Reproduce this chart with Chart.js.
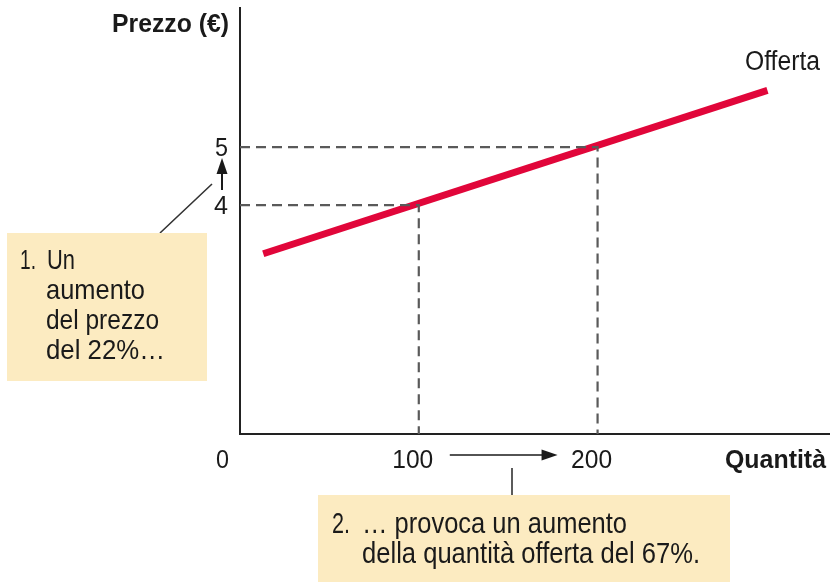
<!DOCTYPE html>
<html>
<head>
<meta charset="utf-8">
<script src="https://cdn.jsdelivr.net/npm/chart.js@4"></script>
<style>
  html, body { margin: 0; padding: 0; background: #fff; }
  #wrap { width: 830px; height: 582px; }
</style>
</head>
<body>
<div id="wrap"><canvas id="myChart" width="830" height="582"></canvas></div>
<script>
// data
const supplyQty = [13, 295];
const supplyPrice = [3.16, 5.98];
const quantities = [100, 200];
const prices = [4, 5];
const xTickLabels = ["100", "200"];
const yTickLabels = ["4", "5"];
const xMin = 0;
const xMax = 330;
const yMin = 0.05;
const yMax = 7.4;

const font = '"Liberation Sans", Arial, sans-serif';
const red = "#e1063a";
const boxFill = "#fcebc1";
const dashGrey = "#5a5a5a";
const ink = "#1a1a1a";

const supply = supplyQty.map((q, i) => ({ x: q, y: supplyPrice[i] }));
const guides = quantities.map((q, i) => ({
  label: "guide" + i,
  data: [{ x: xMin, y: prices[i] }, { x: q, y: prices[i] }, { x: q, y: yMin }],
  borderColor: dashGrey,
  borderWidth: 2.2,
  borderDash: [10, 6],
  pointRadius: 0,
  showLine: true,
  fill: false
}));

// condensed-looking text: squeeze horizontally to the width seen in the picture
function fitText(ctx, text, x, y, size, bold, width, align) {
  ctx.font = (bold ? "bold " : "") + size + "px " + font;
  const w = ctx.measureText(text).width;
  const sx = width / w;
  ctx.save();
  ctx.textAlign = "left";
  ctx.textBaseline = "alphabetic";
  let left = x;
  if (align === "right") left = x - width;
  if (align === "center") left = x - width / 2;
  ctx.translate(left, y);
  ctx.scale(sx, 1);
  ctx.fillText(text, 0, 0);
  ctx.restore();
}

function arrowHead(ctx, x, y, dx, dy, len, half) {
  const px = -dy, py = dx;
  ctx.beginPath();
  ctx.moveTo(x, y);
  ctx.lineTo(x - dx * len + px * half, y - dy * len + py * half);
  ctx.lineTo(x - dx * len - px * half, y - dy * len - py * half);
  ctx.closePath();
  ctx.fill();
}

const extras = {
  id: "extras",
  afterDraw(chart) {
    const ctx = chart.ctx;
    const xs = chart.scales.x;
    const ys = chart.scales.y;
    ctx.save();
    ctx.fillStyle = ink;

    // axis titles
    fitText(ctx, "Prezzo (€)", 229, 32, 26, true, 117, "right");
    fitText(ctx, "Quantità", 826, 468, 26, true, 101, "right");

    // tick labels
    const tw = { "4": 14, "5": 13 };
    yTickLabels.forEach((t, i) =>
      fitText(ctx, t, 228, ys.getPixelForValue(prices[i]) + 9, 25, false, tw[t], "right"));
    fitText(ctx, "0", 229, 468, 25, false, 13, "right");
    xTickLabels.forEach((t, i) =>
      fitText(ctx, t, xs.getPixelForValue(quantities[i]) - 6, 468, 25, false, 41, "center"));

    // curve label
    fitText(ctx, "Offerta", 745, 70, 27, false, 75, "left");

    // price arrow 4 -> 5
    ctx.strokeStyle = ink;
    ctx.lineWidth = 2;
    const ax = xs.left - 18;
    const ay0 = ys.getPixelForValue(prices[0]) - 15;
    const ay1 = ys.getPixelForValue(prices[1]) + 11;
    ctx.beginPath();
    ctx.moveTo(ax, ay0);
    ctx.lineTo(ax, ay1 + 12);
    ctx.stroke();
    arrowHead(ctx, ax, ay1, 0, -1, 16, 5.5);

    // quantity arrow 100 -> 200
    const hy = 455;
    const hx0 = xs.getPixelForValue(quantities[0]) + 31;
    const hx1 = xs.getPixelForValue(quantities[1]) - 40;
    ctx.lineWidth = 1.6;
    ctx.beginPath();
    ctx.moveTo(hx0, hy);
    ctx.lineTo(hx1 - 10, hy);
    ctx.stroke();
    arrowHead(ctx, hx1, hy, 1, 0, 16, 5.5);

    // leader lines
    ctx.strokeStyle = "#333";
    ctx.lineWidth = 1.6;
    ctx.beginPath();
    ctx.moveTo(160, 233);
    ctx.lineTo(212, 184);
    ctx.moveTo(512, 468);
    ctx.lineTo(512, 495);
    ctx.stroke();

    // note boxes
    ctx.fillStyle = boxFill;
    ctx.fillRect(7, 233, 200, 148);
    ctx.fillRect(318, 495, 412, 90);

    ctx.fillStyle = ink;
    fitText(ctx, "1.", 20, 269, 28, false, 16, "left");
    fitText(ctx, "Un", 47, 269, 28, false, 28, "left");
    fitText(ctx, "aumento", 46, 299, 28, false, 99, "left");
    fitText(ctx, "del prezzo", 46, 329, 28, false, 113, "left");
    fitText(ctx, "del 22%…", 46, 359, 28, false, 119, "left");

    fitText(ctx, "2.", 332, 533, 29, false, 18, "left");
    fitText(ctx, "… provoca un aumento", 362, 533, 29, false, 265, "left");
    fitText(ctx, "della quantità offerta del 67%.", 362, 563, 29, false, 338, "left");

    ctx.restore();
  }
};

const config = {
  type: "scatter",
  data: {
    datasets: [
      ...guides,
      {
        label: "Offerta",
        data: supply,
        borderColor: red,
        borderWidth: 7,
        borderCapStyle: "butt",
        pointRadius: 0,
        showLine: true,
        fill: false
      }
    ]
  },
  options: {
    responsive: false,
    animation: false,
    layout: { padding: { left: 240, right: 0, top: 8, bottom: 148 } },
    plugins: { legend: { display: false }, tooltip: { enabled: false } },
    scales: {
      x: {
        type: "linear",
        min: xMin,
        max: xMax,
        ticks: { display: false },
        grid: { display: false, drawTicks: false, tickLength: 0 },
        border: { display: true, color: "#222", width: 2 }
      },
      y: {
        type: "linear",
        min: yMin,
        max: yMax,
        ticks: { display: false },
        grid: { display: false, drawTicks: false, tickLength: 0 },
        border: { display: true, color: "#222", width: 2 }
      }
    }
  },
  plugins: [extras]
};

new Chart(document.getElementById("myChart"), config);
</script>
</body>
</html>
